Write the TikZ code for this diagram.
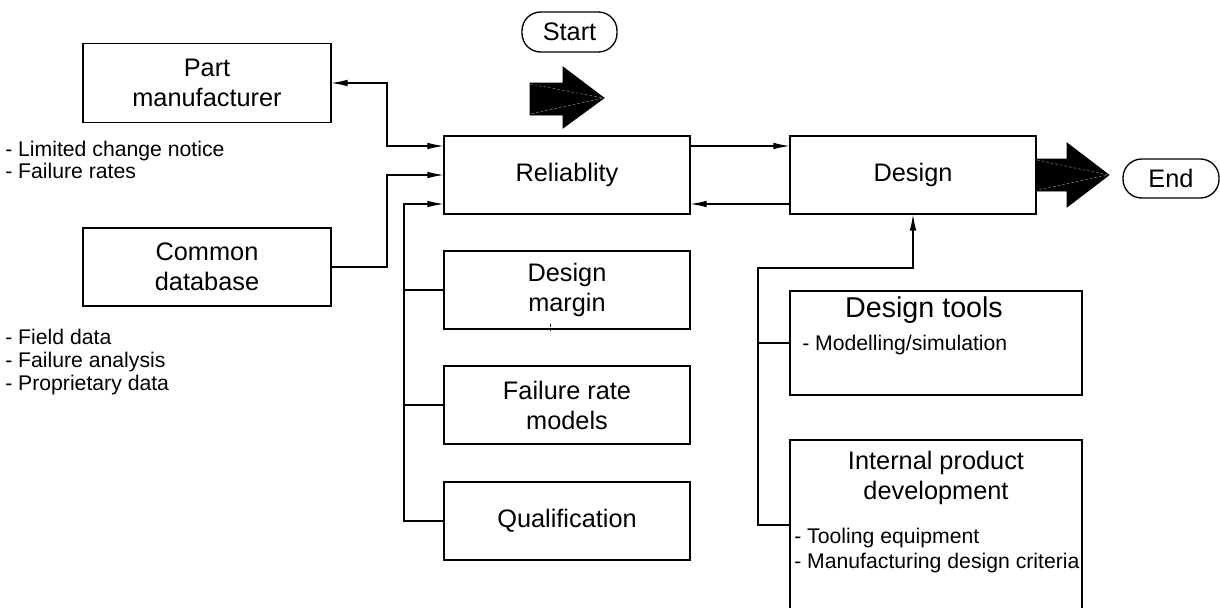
\documentclass[tikz,border=0pt]{standalone}
\usepackage{fontspec}
\setmainfont{Liberation Sans}
\usetikzlibrary{arrows.meta,calc}
\newcommand\lblfont{\fontsize{19}{22.5}\selectfont}
\newcommand\titlefont{\fontsize{21.5}{26}\selectfont}
\newcommand\notefont{\fontsize{15.9}{19}\selectfont}
\begin{document}
\begin{tikzpicture}[x=0.75pt,y=-0.75pt,
  box/.style={draw, line width=1.1pt, inner sep=0pt, outer sep=0pt, align=center, font=\lblfont},
  wbox/.style={box, minimum width=184.5pt, minimum height=58.5pt},
  terminal/.style={draw, line width=1pt, rounded corners=14pt, inner sep=0pt, font=\lblfont},
  note/.style={anchor=base west, inner sep=0pt, font=\notefont},
  conn/.style={line width=1.1pt},
  arr/.style={conn, -{Latex[length=12.5pt,width=5pt]}},
  biarr/.style={conn, {Latex[length=12.5pt,width=5pt]}-{Latex[length=12.5pt,width=5pt]}},
  bigarrow/.style={fill=black, draw=black, line width=0.6pt, line join=miter},
  seam/.style={draw=gray!70, line width=0.3pt, dash pattern=on 2pt off 1.5pt}]
\useasboundingbox (0,0) rectangle (1220,607);

% terminals
\node[terminal, minimum width=71.25pt, minimum height=30pt] (start) at (569.5,32) {Start};
\node[terminal, minimum width=72pt, minimum height=29.25pt] (end) at (1171,178.5) {End};

% block arrows into and out of the flow
\path[bigarrow] (530,83) -- (563,83) -- (563,67) -- (604,98) -- (563,128) -- (563,115) -- (530,115) -- cycle;
\draw[seam] (530,84) -- (603,98) -- (530,114);
\path[bigarrow] (1036,159) -- (1067,159) -- (1067,143) -- (1109,175) -- (1067,207) -- (1067,191) -- (1036,191) -- cycle;
\draw[seam] (1037,160) -- (1108,175) -- (1037,190);

% sources on the left
\node[box, minimum width=186pt, minimum height=59.25pt] (pm) at (207,83) {Part\\manufacturer};
\node[box, minimum width=186pt, minimum height=58.5pt] (cdb) at (207,267) {Common\\database};
\node[note] (pm1) at (5,156) {- Limited change notice};
\node[note] (pm2) at (5,178) {- Failure rates};
\node[note] (cd1) at (5,344) {- Field data};
\node[note] (cd2) at (5,367) {- Failure analysis};
\node[note] (cd3) at (5,390) {- Proprietary data};

% reliability column
\node[wbox] (rel) at (567,175) {Reliablity};
\node[wbox] (dm) at (567,290) {Design\\margin};
\node[wbox] (frm) at (567,405) {Failure rate\\models};
\node[wbox] (qual) at (567,521) {Qualification};
\draw[line width=0.6pt] (550,324) -- (550,326.5) (550,329) -- (550,331);

% design column
\node[wbox] (des) at (913,175) {Design};
\node[box, minimum width=219pt, minimum height=78pt] (dt) at (936,343) {};
\node[font=\titlefont, inner sep=0pt] (dtT) at (924,310) {Design tools};
\node[note] (dt1) at (802,350) {- Modelling/simulation};
\node[box, draw=none, minimum width=219pt, minimum height=127.5pt] (ipd) at (936,525) {};
\draw[line width=1.1pt] (ipd.south west) -- (ipd.north west) -- (ipd.north east) -- (ipd.south east);
\node[font=\lblfont, align=center, inner sep=0pt] (ipdT) at (936,478) {Internal product\\development};
\node[note] (ipd1) at (794,543) {- Tooling equipment};
\node[note] (ipd2) at (794,568) {- Manufacturing design criteria};

% connectors
\draw[biarr] (pm.east) -| (387,146) -- ([yshift=21.75pt]rel.west);
\draw[arr] (cdb.east) -| (387,175) -- (rel.west);
\draw[arr] (qual.west) -| (404,204) -- ([yshift=-21.75pt]rel.west);
\draw[conn] (dm.west) -- ++(-40,0);
\draw[conn] (frm.west) -- ++(-40,0);
\draw[arr] ([yshift=21.75pt]rel.east) -- ([yshift=21.75pt]des.west);
\draw[arr] ([yshift=-21.75pt]des.west) -- ([yshift=-21.75pt]rel.east);
\draw[arr] (ipd.west) -| (758,268) -| (des.south);
\draw[conn] (dt.west) -- ++(-32,0);
\end{tikzpicture}
\end{document}
